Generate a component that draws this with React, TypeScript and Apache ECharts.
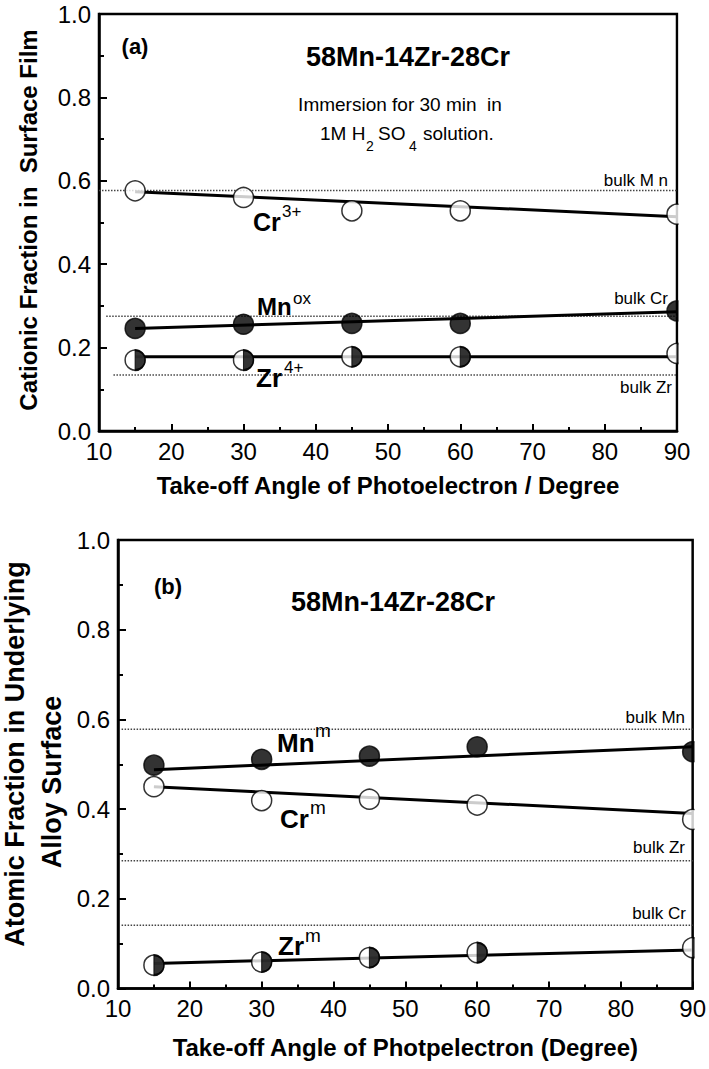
import React, { useEffect, useRef } from "react";
import * as echarts from "echarts";

const FONT = "'Liberation Sans', Arial, sans-serif";

// shared x positions (take-off angle, degree)
const angles = [15, 30, 45, 60, 90];
const fitX = [15, 90];
const xTicks = [10, 20, 30, 40, 50, 60, 70, 80, 90];

// panel (a): cationic fraction in surface film
const crA = [0.576, 0.56, 0.528, 0.528, 0.52];
const mnA = [0.246, 0.256, 0.258, 0.258, 0.288];
const zrA = [0.17, 0.17, 0.178, 0.178, 0.186];
const crFitA = [0.574, 0.514];
const mnFitA = [0.246, 0.286];
const zrFitA = [0.178, 0.178];
const bulkValuesA = [0.577, 0.275, 0.134];
const bulkStartA = [10, 11, 12];

// panel (b): atomic fraction in underlying alloy surface
const mnB = [0.498, 0.511, 0.518, 0.539, 0.528];
const crB = [0.45, 0.419, 0.422, 0.409, 0.377];
const zrB = [0.052, 0.059, 0.069, 0.08, 0.091];
const mnFitB = [0.488, 0.539];
const crFitB = [0.45, 0.39];
const zrFitB = [0.056, 0.086];
const bulkValuesB = [0.578, 0.285, 0.141];
const bulkStartB = [10.5, 10.5, 10.5];

const pairs = (xs: number[], ys: number[]) => xs.map((x, i) => [x, ys[i]]);

const HALF = "path://M0,0 A10,10 0 0,1 0,20 Z";
const MS = 20;

function panelSeries(
  idx: number,
  open: number[],
  filled: number[],
  half: number[],
  fits: number[][],
  bulk: number[],
  bulkStart: number[]
) {
  const base = { xAxisIndex: idx, yAxisIndex: idx, silent: true, animation: false };
  const s: any[] = [];
  bulk.forEach((v, i) => {
    s.push({
      ...base,
      type: "line",
      data: [[bulkStart[i], v], [90, v]],
      showSymbol: false,
      lineStyle: { type: "dotted", width: 1.5, color: "#444" },
      z: 1,
    });
  });
  fits.forEach((f) => {
    s.push({
      ...base,
      type: "line",
      data: pairs(fitX, f),
      showSymbol: false,
      lineStyle: { color: "#000", width: 3 },
      z: 2,
    });
  });
  s.push({
    ...base,
    type: "scatter",
    data: pairs(angles, open),
    symbol: "circle",
    symbolSize: MS,
    itemStyle: { color: "#fff", borderColor: "#000", borderWidth: 1.5 },
    z: 3,
  });
  s.push({
    ...base,
    type: "scatter",
    data: pairs(angles, filled),
    symbol: "circle",
    symbolSize: MS,
    itemStyle: { color: "#000", borderColor: "#000", borderWidth: 1.5 },
    z: 3,
  });
  s.push({
    ...base,
    type: "scatter",
    data: pairs(angles, half),
    symbol: "circle",
    symbolSize: MS,
    itemStyle: { color: "#fff", borderColor: "#000", borderWidth: 1.5 },
    z: 3,
  });
  s.push({
    ...base,
    type: "scatter",
    data: pairs(angles, half),
    symbol: HALF,
    symbolKeepAspect: false,
    symbolSize: [MS / 2, MS],
    symbolOffset: [MS / 4, 0],
    itemStyle: { color: "#000", borderColor: "#000", borderWidth: 1.5 },
    z: 4,
  });
  return s;
}

function xAxisOf(idx: number, name: string, gap: number) {
  return {
    type: "value",
    gridIndex: idx,
    min: xTicks[0],
    max: xTicks[xTicks.length - 1],
    interval: 10,
    name,
    nameLocation: "middle",
    nameGap: gap,
    nameTextStyle: { fontSize: 24, fontWeight: "bold", color: "#000", fontFamily: FONT },
    axisLine: { show: true, onZero: false, lineStyle: { color: "#000", width: 2.5 } },
    axisTick: { show: true, inside: true, length: 7, lineStyle: { color: "#000", width: 2 } },
    minorTick: { show: true, splitNumber: 2, length: 4, lineStyle: { color: "#000", width: 2 } },
    splitLine: { show: false },
    minorSplitLine: { show: false },
    axisLabel: { color: "#000", fontSize: 24, margin: 8, fontFamily: FONT },
  };
}

function yAxisOf(idx: number) {
  return {
    type: "value",
    gridIndex: idx,
    min: 0,
    max: 1,
    interval: 0.2,
    axisLine: { show: true, onZero: false, lineStyle: { color: "#000", width: 2.5 } },
    axisTick: { show: true, inside: true, length: 8, lineStyle: { color: "#000", width: 2 } },
    minorTick: { show: true, splitNumber: 2, length: 5, lineStyle: { color: "#000", width: 2 } },
    splitLine: { show: false },
    minorSplitLine: { show: false },
    axisLabel: {
      color: "#000",
      fontSize: 24,
      margin: 8,
      fontFamily: FONT,
      formatter: (v: number) => v.toFixed(1),
    },
  };
}

function txt(
  text: string,
  x: number,
  y: number,
  size: number,
  bold = false,
  align = "left",
  rotation = 0
) {
  return {
    type: "text",
    x,
    y,
    rotation,
    z: 10,
    silent: true,
    style: {
      text,
      fontSize: size,
      fontWeight: bold ? "bold" : "normal",
      fontFamily: FONT,
      fill: "#000",
      align,
      verticalAlign: "middle",
      textAlign: align,
      textVerticalAlign: "middle",
    },
  };
}

// white masks just outside the right frame, so edge markers appear clipped
function mask(x: number, y: number, w: number, h: number) {
  return { type: "rect", z: 9, silent: true, shape: { x, y, width: w, height: h }, style: { fill: "#fff" } };
}

const graphics = [
  mask(678.6, 0, 40, 430),
  mask(694.6, 525, 20, 462),
  // panel (a)
  txt("(a)", 135, 46, 22, true, "center"),
  txt("58Mn-14Zr-28Cr", 408, 57, 27, true, "center"),
  txt("Immersion for 30 min  in", 400, 104, 19, false, "center"),
  txt("1M H", 320, 133, 19),
  txt("2", 366, 146, 14),
  txt("SO", 378, 133, 19),
  txt("4", 409, 146, 14),
  txt("solution.", 423, 133, 19),
  txt("bulk M n", 668, 180, 17, false, "right"),
  txt("bulk Cr", 668, 298, 17, false, "right"),
  txt("bulk Zr", 672, 387, 17, false, "right"),
  txt("Cr", 253, 222, 25, true),
  txt("3+", 282, 211, 17),
  txt("Mn", 257, 306, 24, true),
  txt("ox", 293, 298, 17),
  txt("Zr", 256, 378, 26, true),
  txt("4+", 284, 367, 17),
  txt("Cationic Fraction in  Surface Film", 28, 220, 24, true, "center", Math.PI / 2),
  // panel (b)
  txt("(b)", 168, 586, 22, true, "center"),
  txt("58Mn-14Zr-28Cr", 393, 602, 27, true, "center"),
  txt("bulk Mn", 685, 717, 17, false, "right"),
  txt("bulk Zr", 685, 847, 17, false, "right"),
  txt("bulk Cr", 686, 913, 17, false, "right"),
  txt("Mn", 277, 743, 26, true),
  txt("m", 315, 730, 19),
  txt("Cr", 280, 819, 26, true),
  txt("m", 310, 807, 19),
  txt("Zr", 278, 946, 26, true),
  txt("m", 305, 935, 19),
  txt("Atomic Fraction in Underlying", 15, 754, 27, true, "center", Math.PI / 2),
  txt("Alloy Surface", 52, 782, 27, true, "center", Math.PI / 2),
];

const option: any = {
  animation: false,
  backgroundColor: "#fff",
  grid: [
    { left: 99, top: 14, right: 32, height: 417, show: true, borderColor: "#000", borderWidth: 2.5 },
    { left: 118, top: 540, right: 16, height: 448.5, show: true, borderColor: "#000", borderWidth: 2.5 },
  ],
  xAxis: [
    xAxisOf(0, "Take-off Angle of Photoelectron / Degree", 42),
    xAxisOf(1, "Take-off Angle of Photpelectron (Degree)", 47),
  ],
  yAxis: [yAxisOf(0), yAxisOf(1)],
  series: [
    ...panelSeries(0, crA, mnA, zrA, [crFitA, mnFitA, zrFitA], bulkValuesA, bulkStartA),
    ...panelSeries(1, crB, mnB, zrB, [crFitB, mnFitB, zrFitB], bulkValuesB, bulkStartB),
  ],
  graphic: graphics,
};

export default function App() {
  const ref = useRef<HTMLDivElement>(null);
  useEffect(() => {
    const chart = echarts.init(ref.current as HTMLDivElement, null, { renderer: "svg" });
    chart.setOption(option);
    return () => chart.dispose();
  }, []);
  return (
    <div
      ref={ref}
      style={{ position: "absolute", left: 0, top: 0, width: 709, height: 1069, background: "#fff" }}
    />
  );
}
